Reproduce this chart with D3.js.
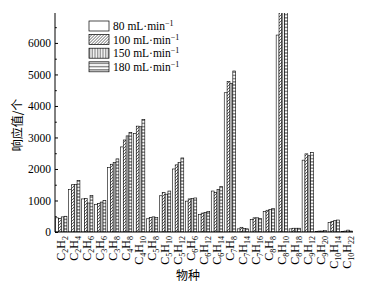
<!DOCTYPE html>
<html>
<head>
<meta charset="utf-8">
<script src="https://cdn.jsdelivr.net/npm/d3@7"></script>
<style>
  body { margin: 0; background: #fff; }
  svg { display: block; }
  .axis path, .axis line { stroke: #000; }
  .axis text { font-family: "Liberation Serif", serif; font-size: 11.5px; fill: #000; }
</style>
</head>
<body>
<svg id="chart"></svg>
<script>
// species (formula parts: [C count, H count])
const species = [
    ['2', '2'], ['2', '4'], ['2', '6'], ['3', '6'], ['3', '8'], ['4', '8'], ['4', '10'],
    ['5', '8'], ['5', '10'], ['5', '12'], ['6', '6'], ['6', '12'], ['6', '14'], ['7', '8'],
    ['7', '14'], ['7', '16'], ['8', '8'], ['8', '10'], ['8', '18'], ['9', '12'], ['9', '20'],
    ['10', '14'], ['10', '22']
];
const flowRates = ['80', '100', '150', '180'];

const v80  = [450, 1350, 1050, 880, 2050, 2700, 3120, 420, 1150, 2000, 980, 550, 1300, 4420, 100, 400, 650, 6250, 100, 2280, 20, 300, 20];
const v100 = [430, 1500, 1060, 900, 2150, 2920, 3360, 460, 1250, 2130, 1050, 600, 1250, 4770, 150, 450, 690, 7000, 120, 2480, 30, 340, 30];
const v150 = [480, 1510, 920, 950, 2200, 3050, 3340, 480, 1200, 2200, 1060, 620, 1350, 4720, 110, 450, 710, 7000, 120, 2420, 30, 360, 60];
const v180 = [500, 1630, 1160, 1000, 2320, 3160, 3570, 460, 1300, 2350, 1080, 650, 1450, 5110, 100, 430, 750, 7000, 120, 2520, 50, 380, 30];
const series = [v80, v100, v150, v180];

const yTicks = [0, 1000, 2000, 3000, 4000, 5000, 6000];

const width = 381, height = 290;
const margin = { top: 13, right: 28, bottom: 58, left: 55 };
const innerWidth = width - margin.left - margin.right;
const innerHeight = height - margin.top - margin.bottom;

const svg = d3.select('#chart')
    .attr('width', width)
    .attr('height', height);

const defs = svg.append('defs');

// fill patterns, one per flow rate
const p100 = defs.append('pattern').attr('id', 'p100')
    .attr('patternUnits', 'userSpaceOnUse').attr('width', 3).attr('height', 3);
p100.append('rect').attr('width', 3).attr('height', 3).attr('fill', '#fff');
p100.append('path').attr('d', 'M0,3 L3,0 M-1,1 L1,-1 M2,4 L4,2')
    .attr('stroke', '#000').attr('stroke-width', 0.6);

const p150 = defs.append('pattern').attr('id', 'p150')
    .attr('patternUnits', 'userSpaceOnUse').attr('width', 1.6).attr('height', 4);
p150.append('rect').attr('width', 1.6).attr('height', 4).attr('fill', '#fff');
p150.append('line').attr('x1', 0.4).attr('x2', 0.4).attr('y1', 0).attr('y2', 4)
    .attr('stroke', '#555').attr('stroke-width', 0.6);

const p180 = defs.append('pattern').attr('id', 'p180')
    .attr('patternUnits', 'userSpaceOnUse').attr('width', 4).attr('height', 3.2);
p180.append('rect').attr('width', 4).attr('height', 3.2).attr('fill', '#fff');
p180.append('line').attr('x1', 0).attr('x2', 4).attr('y1', 1.6).attr('y2', 1.6)
    .attr('stroke', '#000').attr('stroke-width', 0.8);

const fills = ['#fff', 'url(#p100)', 'url(#p150)', 'url(#p180)'];

defs.append('clipPath').attr('id', 'plot-clip')
    .append('rect')
    .attr('x', 0).attr('y', 0)
    .attr('width', innerWidth).attr('height', innerHeight);

const g = svg.append('g')
    .attr('transform', `translate(${margin.left},${margin.top})`);

const xScale = d3.scaleBand()
    .domain(d3.range(species.length))
    .range([0, innerWidth])
    .paddingInner(0.12)
    .paddingOuter(0.04);

const xSub = d3.scaleBand()
    .domain(d3.range(flowRates.length))
    .range([0, xScale.bandwidth()]);

const yScale = d3.scaleLinear()
    .domain([0, 6950])
    .range([innerHeight, 0]);

// bars
const barLayer = g.append('g').attr('clip-path', 'url(#plot-clip)');
species.forEach((sp, i) => {
    series.forEach((vals, s) => {
        barLayer.append('rect')
            .attr('x', xScale(i) + xSub(s))
            .attr('y', yScale(vals[i]))
            .attr('width', xSub.bandwidth())
            .attr('height', innerHeight - yScale(vals[i]))
            .attr('fill', fills[s])
            .attr('stroke', '#000')
            .attr('stroke-width', 0.6);
    });
});

// Y axis, ticks pointing inward
g.append('g')
    .attr('class', 'axis')
    .call(d3.axisLeft(yScale)
        .tickValues(d3.range(500, 7000, 1000))
        .tickSizeInner(-1.8).tickSizeOuter(0).tickFormat(''))
    .call(a => a.select('.domain').remove());

g.append('g')
    .attr('class', 'axis y-axis')
    .call(d3.axisLeft(yScale)
        .tickValues(yTicks)
        .tickFormat(d3.format('d'))
        .tickSizeInner(-3).tickSizeOuter(0).tickPadding(4))
    .call(a => a.select('.domain').attr('d', `M0,${innerHeight}V0`));

// X axis line
g.append('line')
    .attr('x1', 0).attr('x2', innerWidth)
    .attr('y1', innerHeight).attr('y2', innerHeight)
    .attr('stroke', '#000');

// species labels, rotated; each formula piece is its own text element
const labels = g.append('g')
    .attr('font-family', '"Liberation Serif", serif');
species.forEach((sp, i) => {
    const cx = xScale(i) + xScale.bandwidth() / 2 + 4;
    const lg = labels.append('g')
        .attr('transform', `translate(${cx},${innerHeight + 4}) rotate(-90)`);
    const parts = [['C', 12, 0], [sp[0], 8, 3], ['H', 12, 0], [sp[1], 8, 3]];
    const nodes = parts.map(([txt, fs, dy]) => lg.append('text')
        .attr('font-size', fs)
        .attr('y', dy)
        .text(txt));
    const lens = nodes.map(n => n.node().getComputedTextLength());
    let pos = -d3.sum(lens);
    nodes.forEach((n, k) => {
        n.attr('x', pos);
        pos += lens[k];
    });
});

// axis titles
svg.append('text')
    .attr('x', 188).attr('y', 280)
    .attr('text-anchor', 'middle')
    .attr('font-family', '"Noto Sans CJK SC", sans-serif')
    .attr('font-size', 12)
    .text('物种');

svg.append('text')
    .attr('transform', 'translate(22,125) rotate(-90)')
    .attr('text-anchor', 'middle')
    .attr('font-family', '"Noto Sans CJK SC", sans-serif')
    .attr('font-size', 12)
    .text('响应值/个');

// legend
const legend = svg.append('g')
    .attr('transform', 'translate(89,21)');
flowRates.forEach((fr, i) => {
    const row = legend.append('g')
        .attr('transform', `translate(0,${i * 13.6})`);
    row.append('rect')
        .attr('width', 20).attr('height', 10)
        .attr('fill', fills[i])
        .attr('stroke', '#000')
        .attr('stroke-width', 0.7);
    const t = row.append('text')
        .attr('x', 24).attr('y', 9)
        .attr('font-family', '"Liberation Serif", serif')
        .attr('font-size', 11.5);
    t.append('tspan').text(`${fr} mL\u00b7min`);
    t.append('tspan').attr('font-size', 8).attr('dy', -4).text('\u22121');
});
</script>
</body>
</html>
